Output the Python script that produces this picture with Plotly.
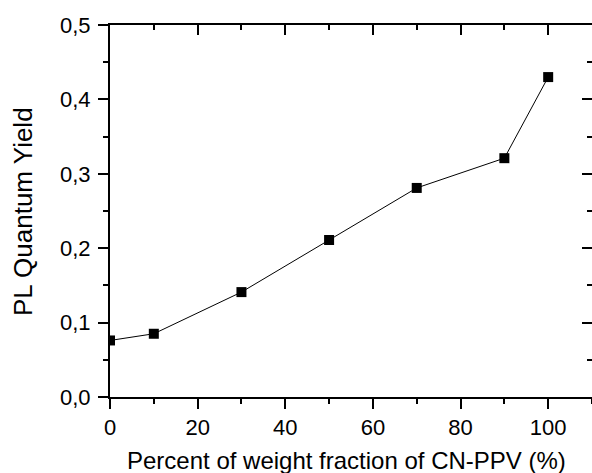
import plotly.graph_objects as go

x_pct = [0, 10, 30, 50, 70, 90, 100]
pl_yield = [0.076, 0.085, 0.141, 0.211, 0.281, 0.321, 0.430]

x_title = "Percent of weight fraction of CN-PPV (%)"
y_title = "PL Quantum Yield"

fig = go.Figure()
fig.add_trace(go.Scatter(
    x=x_pct, y=pl_yield, mode="lines+markers",
    line=dict(color="black", width=1),
    marker=dict(symbol="square", size=10, color="black"),
    showlegend=False,
))
# invisible trace to activate mirrored axes
fig.add_trace(go.Scatter(x=x_pct, y=pl_yield, xaxis="x2", yaxis="y2",
                         mode="markers", marker=dict(opacity=0),
                         showlegend=False, hoverinfo="skip"))

font_family = "Liberation Sans, Arial, sans-serif"
fig.update_layout(
    width=592, height=473,
    margin=dict(l=110, r=0, t=25, b=76),
    plot_bgcolor="white", paper_bgcolor="white",
    separators=",.",
    font=dict(family=font_family, color="black", size=22),
    xaxis=dict(
        range=[0, 110], tickmode="linear", tick0=0, dtick=20,
        ticks="outside", ticklen=10, tickwidth=2, tickcolor="black",
        minor=dict(ticks="outside", ticklen=5, tickwidth=2, dtick=10, tick0=0, tickcolor="black"),
        showline=True, linewidth=2, linecolor="black",
        showgrid=False, zeroline=False,
        tickfont=dict(size=22),
    ),
    yaxis=dict(
        range=[0, 0.5], tickmode="linear", tick0=0, dtick=0.1, tickformat=".1f",
        ticks="outside", ticklen=10, tickwidth=2, tickcolor="black",
        minor=dict(ticks="outside", ticklen=5, tickwidth=2, dtick=0.05, tick0=0, tickcolor="black"),
        showline=True, linewidth=2, linecolor="black",
        showgrid=False, zeroline=False,
        tickfont=dict(size=22), ticklabelstandoff=3,
    ),
    xaxis2=dict(
        overlaying="x", side="top", range=[0, 110], tickmode="linear", tick0=0, dtick=20,
        ticks="inside", ticklen=10, tickwidth=2, tickcolor="black",
        minor=dict(ticks="inside", ticklen=5, tickwidth=2, dtick=10, tick0=0, tickcolor="black"),
        showticklabels=False, showline=True, linewidth=2, linecolor="black",
        showgrid=False, zeroline=False,
    ),
    yaxis2=dict(
        overlaying="y", side="right", range=[0, 0.5], tickmode="linear", tick0=0, dtick=0.1,
        ticks="inside", ticklen=10, tickwidth=2, tickcolor="black",
        minor=dict(ticks="inside", ticklen=5, tickwidth=2, dtick=0.05, tick0=0, tickcolor="black"),
        showticklabels=False, showline=True, linewidth=2, linecolor="black",
        showgrid=False, zeroline=False,
    ),
    annotations=[
        dict(text=x_title, xref="paper", yref="paper", x=0.49, y=-0.172,
             xanchor="center", yanchor="middle", showarrow=False,
             font=dict(size=24, family=font_family, color="black")),
        dict(text=y_title, xref="paper", yref="paper", x=-0.1805, y=0.5,
             xanchor="center", yanchor="middle", showarrow=False, textangle=-90,
             font=dict(size=26, family=font_family, color="black")),
    ],
)

fig.write_html("out.html")
